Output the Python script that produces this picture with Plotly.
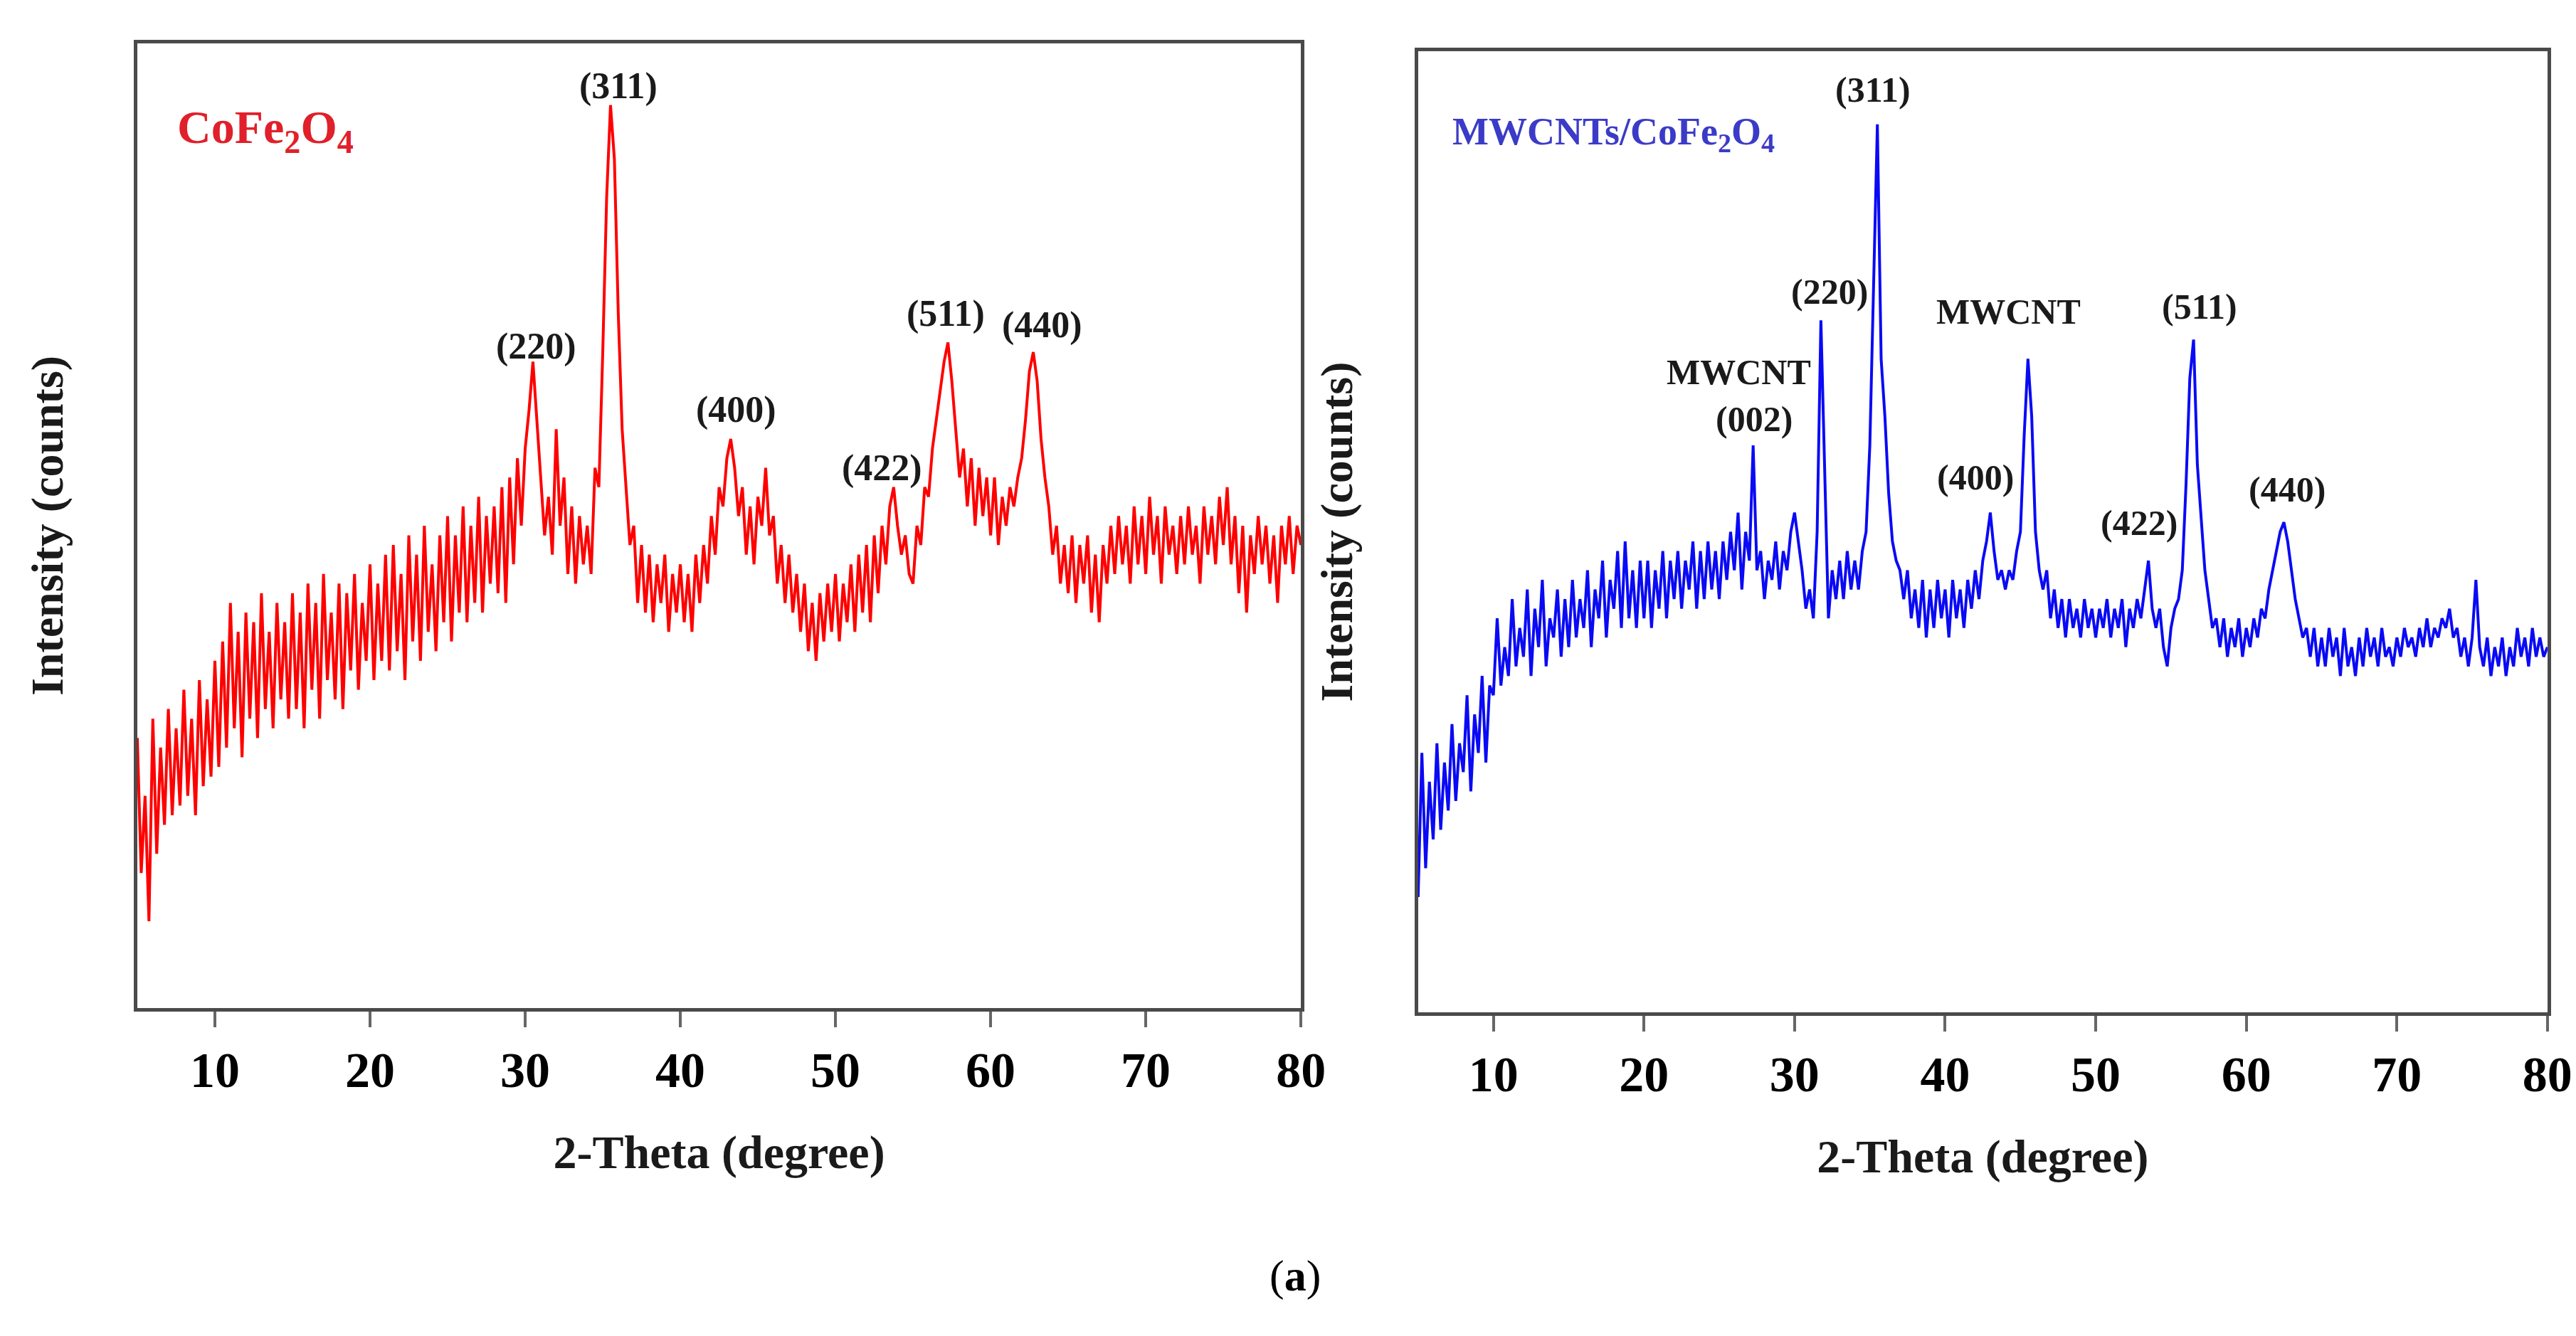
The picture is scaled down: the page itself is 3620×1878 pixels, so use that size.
import plotly.graph_objects as go

# 2-theta scan: 5 to 80 degrees, 0.25 degree step
two_theta_start = 5.0
two_theta_step = 0.25

# CoFe2O4 intensity (arbitrary units)
cofe2o4_counts = [
    28, 14, 22, 9, 30, 16, 27, 19, 31, 20, 29, 21, 33, 22, 30, 20, 34, 23, 32, 24,
    36, 25, 38, 27, 42, 29, 39, 26, 41, 30, 40, 28, 43, 31, 39, 29, 42, 32, 40, 30,
    43, 31, 41, 29, 44, 33, 42, 30, 45, 34, 41, 32, 44, 31, 43, 35, 45, 33, 42, 36,
    46, 34, 44, 36, 47, 35, 48, 37, 45, 34, 49, 38, 47, 36, 50, 39, 46, 37, 49, 40,
    51, 38, 49, 41, 52, 40, 50, 42, 53, 41, 51, 44, 52, 43, 54, 42, 55, 46, 57, 50,
    58, 62, 67, 61, 55, 49, 53, 47, 60, 50, 55, 45, 52, 44, 51, 46, 50, 45, 56, 54,
    68, 84, 93.6, 88, 72, 60, 54, 48, 50, 42, 48, 41, 47, 40, 46, 42, 47, 39, 45, 41,
    46, 40, 45, 39, 47, 42, 48, 44, 51, 47, 54, 52, 57, 59, 56, 51, 54, 47, 52, 46,
    53, 50, 56, 49, 51, 44, 48, 42, 47, 41, 45, 39, 44, 37, 42, 36, 43, 38, 44, 39,
    45, 38, 44, 40, 46, 39, 47, 41, 48, 40, 49, 43, 50, 46, 52, 54, 50, 47, 49, 45,
    44, 50, 48, 54, 53, 58, 61, 64, 67, 69, 65, 60, 55, 58, 52, 57, 50, 56, 51, 55,
    49, 55, 48, 53, 50, 54, 52, 55, 57, 61, 66, 68, 65, 59, 55, 52, 47, 50, 44, 48,
    43, 49, 42, 48, 44, 49, 41, 47, 40, 48, 44, 50, 45, 51, 46, 50, 44, 52, 46, 51,
    45, 53, 47, 51, 44, 52, 47, 50, 45, 51, 46, 52, 47, 50, 44, 52, 47, 51, 46, 53,
    48, 54, 46, 51, 43, 50, 41, 49, 45, 51, 46, 50, 44, 49, 42, 50, 46, 51, 45, 50, 48,
]

# MWCNTs/CoFe2O4 intensity (arbitrary units)
mwcnt_cofe2o4_counts = [
    12, 27, 15, 24, 18, 28, 19, 26, 21, 30, 22, 28, 25, 33, 23, 31, 27, 35, 26, 34,
    33, 41, 34, 38, 35, 43, 36, 40, 37, 44, 35, 42, 38, 45, 36, 41, 39, 44, 37, 43,
    38, 45, 39, 43, 40, 46, 38, 44, 41, 47, 39, 45, 42, 48, 40, 49, 41, 46, 40, 47,
    41, 47, 40, 46, 42, 48, 41, 47, 43, 48, 42, 47, 44, 49, 42, 48, 43, 49, 44, 48,
    43, 49, 45, 50, 46, 52, 44, 50, 47, 59, 46, 48, 43, 47, 45, 49, 44, 48, 46, 50,
    52, 49, 46, 42, 44, 41, 50, 72, 55, 41, 46, 43, 47, 43, 48, 44, 47, 44, 48, 50,
    59, 75, 92.4, 68, 62, 54, 49, 47, 46, 43, 46, 41, 44, 40, 45, 39, 44, 40, 45, 41,
    44, 39, 45, 41, 44, 40, 45, 42, 46, 43, 47, 49, 52, 48, 45, 46, 44, 46, 45, 48,
    50, 60, 68, 62, 50, 46, 44, 46, 41, 44, 40, 43, 39, 43, 40, 42, 39, 43, 40, 42,
    39, 42, 40, 43, 39, 42, 40, 43, 38, 42, 40, 43, 41, 44, 47, 42, 40, 42, 38, 36,
    40, 42, 43, 46, 55, 66, 70, 57, 51, 46, 43, 40, 41, 38, 41, 37, 40, 38, 41, 37,
    40, 38, 41, 39, 42, 41, 44, 46, 48, 50, 51, 49, 46, 43, 41, 39, 40, 37, 40, 36,
    39, 36, 40, 37, 39, 35, 40, 36, 38, 35, 39, 36, 40, 37, 39, 36, 40, 37, 38, 36,
    39, 37, 40, 38, 39, 37, 40, 38, 41, 38, 40, 39, 41, 40, 42, 39, 40, 37, 39, 36,
    39, 45, 38, 36, 39, 35, 38, 36, 39, 35, 38, 36, 40, 37, 39, 36, 40, 37, 39, 37, 38,
]

x_ticks = [10, 20, 30, 40, 50, 60, 70, 80]

# peak labels: (text, 2-theta, intensity)
cofe2o4_peaks = [
    ("(311)", 36.0, 95.6),
    ("(220)", 30.7, 68.6),
    ("(400)", 43.6, 62.0),
    ("(422)", 53.0, 56.0),
    ("(511)", 57.1, 72.0),
    ("(440)", 63.3, 70.8),
]
mwcnt_peaks = [
    ("(311)", 35.2, 96.0),
    ("(220)", 32.3, 75.0),
    ("MWCNT", 26.3, 66.6),
    ("(002)", 27.3, 61.7),
    ("MWCNT", 44.2, 72.9),
    ("(400)", 42.0, 55.7),
    ("(422)", 52.9, 50.9),
    ("(511)", 56.9, 73.4),
    ("(440)", 62.7, 54.4),
]

SERIF = "Liberation Serif, Times New Roman, serif"


def theta_grid(n):
    return [two_theta_start + two_theta_step * i for i in range(n)]


fig = go.Figure()
fig.add_trace(go.Scatter(
    x=theta_grid(len(cofe2o4_counts)), y=cofe2o4_counts,
    mode="lines", line=dict(color="#ff0000", width=4),
    xaxis="x", yaxis="y", showlegend=False,
))
fig.add_trace(go.Scatter(
    x=theta_grid(len(mwcnt_cofe2o4_counts)), y=mwcnt_cofe2o4_counts,
    mode="lines", line=dict(color="#0a0af5", width=4),
    xaxis="x2", yaxis="y2", showlegend=False,
))

xaxis_style = dict(
    range=[5, 80], tickvals=x_ticks, ticks="outside", ticklen=22, tickwidth=4,
    tickcolor="#666666", showline=True, mirror=True, linecolor="#4a4a4a",
    linewidth=5, showgrid=False, zeroline=False, automargin=False,
    tickfont=dict(family=SERIF, size=70, color="black", weight="bold"),
    title=dict(text="<b>2-Theta (degree)</b>", standoff=55,
               font=dict(family=SERIF, size=66, color="#1a1a1a")),
)
yaxis_style = dict(
    range=[0, 100], showticklabels=False, ticks="", showline=True, mirror=True,
    linecolor="#4a4a4a", linewidth=5, showgrid=False, zeroline=False,
    automargin=False,
    title=dict(text="<b>Intensity (counts)</b>",
               font=dict(family=SERIF, size=64, color="#1a1a1a")),
)

fig.update_layout(
    width=3620, height=1878,
    margin=dict(l=0, r=0, t=0, b=0),
    paper_bgcolor="white", plot_bgcolor="white",
    xaxis=dict(xaxis_style, domain=[0.0511, 0.5028], anchor="y"),
    yaxis=dict(yaxis_style, domain=[0.2497, 0.9718], anchor="x"),
    xaxis2=dict(xaxis_style, domain=[0.5483, 0.9867], anchor="y2"),
    yaxis2=dict(yaxis_style, domain=[0.2465, 0.9659], anchor="x2"),
)
fig.layout.yaxis.title.standoff = 80
fig.layout.yaxis2.title.standoff = 68

annotations = []
for text, xv, yv in cofe2o4_peaks:
    annotations.append(dict(
        x=xv, y=yv, xref="x", yref="y", text="<b>%s</b>" % text,
        showarrow=False, font=dict(family=SERIF, size=52, color="#1a1a1a"),
    ))
for text, xv, yv in mwcnt_peaks:
    annotations.append(dict(
        x=xv, y=yv, xref="x2", yref="y2", text="<b>%s</b>" % text,
        showarrow=False, font=dict(family=SERIF, size=50, color="#1a1a1a"),
    ))

annotations.append(dict(
    x=7.5, y=91.0, xref="x", yref="y", xanchor="left",
    text="<b>CoFe<sub>2</sub>O<sub>4</sub></b>", showarrow=False,
    font=dict(family=SERIF, size=66, color="#e0202a"),
))
annotations.append(dict(
    x=7.2, y=91.4, xref="x2", yref="y2", xanchor="left",
    text="<b>MWCNTs/CoFe<sub>2</sub>O<sub>4</sub></b>", showarrow=False,
    font=dict(family=SERIF, size=54, color="#3b3bc8"),
))
annotations.append(dict(
    x=0.5006, y=1 - 1822 / 1878, xref="paper", yref="paper",
    text="(<b>a</b>)", showarrow=False,
    font=dict(family=SERIF, size=62, color="black"),
))
fig.update_layout(annotations=annotations)

fig.write_html("out.html")
